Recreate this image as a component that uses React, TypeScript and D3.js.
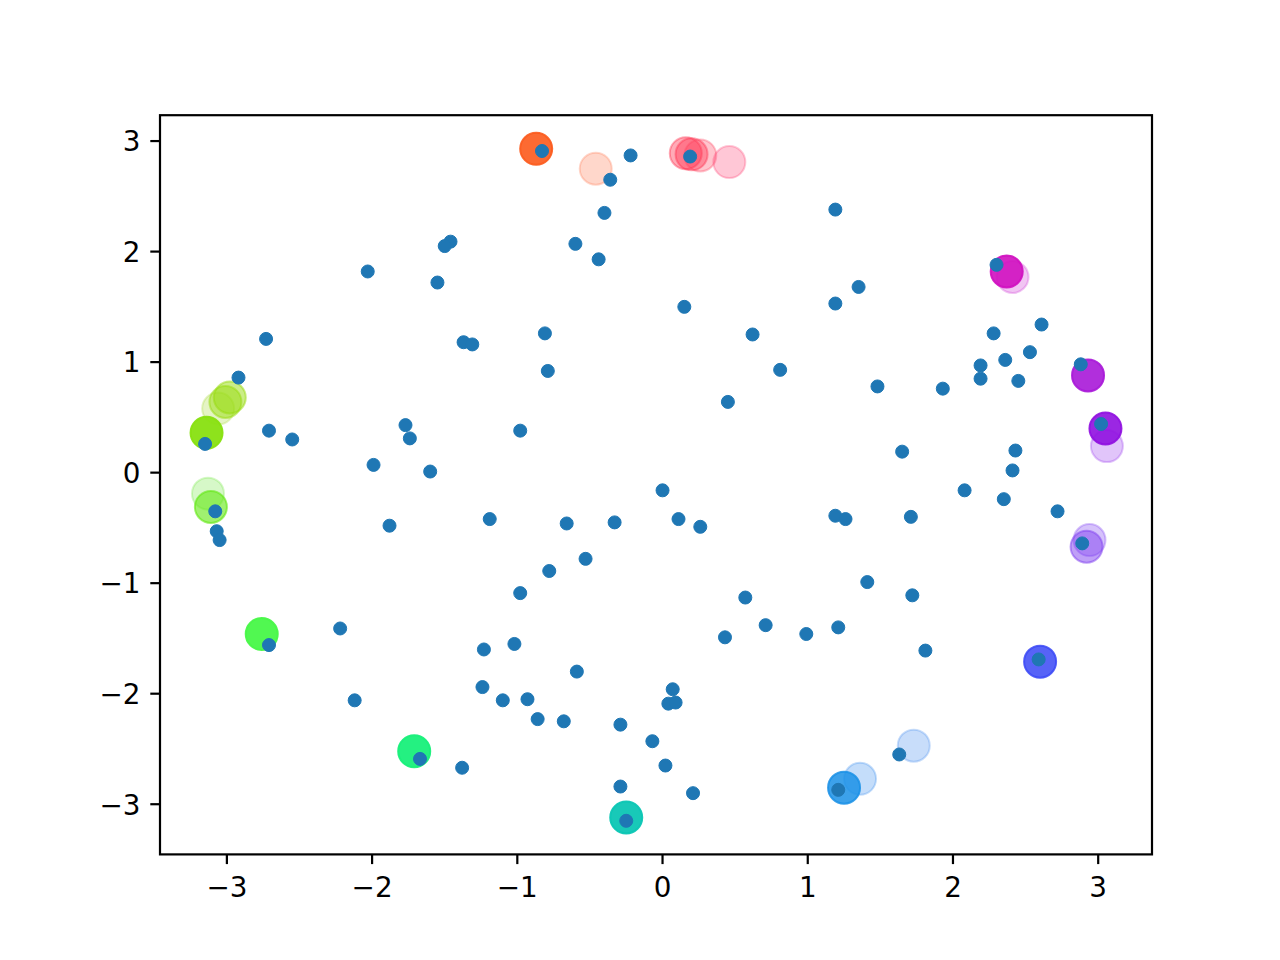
import React from "react";
import * as d3 from "d3";

// Small blue points
const dotX = [-0.83,-0.22,0.19,-0.36,-0.40,1.19,-0.60,-1.46,-1.50,-0.44,-2.03,2.30,-1.55,1.35,1.19,0.15,2.61,-2.73,-0.81,0.62,-1.37,-1.31,2.28,2.53,2.36,2.19,0.81,-0.79,2.88,-2.92,2.19,2.45,1.48,1.93,0.45,-1.77,3.02,-2.71,-0.98,-2.55,-1.74,-3.15,2.43,1.65,-1.99,-1.60,2.41,0.00,2.08,2.35,-3.08,2.72,-1.88,-1.19,0.11,1.19,1.26,1.71,-0.66,-0.33,0.26,-3.07,-3.05,2.89,-0.53,-0.78,1.41,-0.98,0.57,1.72,0.71,-2.22,1.21,0.99,0.43,-2.71,-1.02,-1.23,1.81,2.59,-0.59,-1.24,0.07,-2.12,-1.10,-0.93,0.04,0.09,-0.86,-0.68,-0.29,-0.07,1.63,-1.67,-1.38,0.02,-0.29,1.21,0.21,-0.25];
const dotY = [2.91,2.87,2.86,2.65,2.35,2.38,2.07,2.09,2.05,1.93,1.82,1.88,1.72,1.68,1.53,1.50,1.34,1.21,1.26,1.25,1.18,1.16,1.26,1.09,1.02,0.97,0.93,0.92,0.98,0.86,0.85,0.83,0.78,0.76,0.64,0.43,0.44,0.38,0.38,0.30,0.31,0.26,0.20,0.19,0.07,0.01,0.02,-0.16,-0.16,-0.24,-0.35,-0.35,-0.48,-0.42,-0.42,-0.39,-0.42,-0.40,-0.46,-0.45,-0.49,-0.53,-0.61,-0.64,-0.78,-0.89,-0.99,-1.09,-1.13,-1.11,-1.38,-1.41,-1.40,-1.46,-1.49,-1.56,-1.55,-1.60,-1.61,-1.69,-1.80,-1.94,-1.96,-2.06,-2.06,-2.05,-2.09,-2.08,-2.23,-2.25,-2.28,-2.43,-2.55,-2.59,-2.67,-2.65,-2.84,-2.87,-2.90,-3.15];

// Large coloured circles
const bigX = [-0.87,-0.46,0.16,0.20,0.26,0.46,2.41,2.37,2.93,3.06,3.05,2.94,2.92,2.60,1.73,1.36,1.25,-0.25,-1.71,-2.76,-3.13,-3.11,-3.06,-3.01,-2.98,-3.14];
const bigY = [2.93,2.75,2.89,2.88,2.87,2.81,1.77,1.82,0.88,0.24,0.40,-0.61,-0.67,-1.71,-2.47,-2.77,-2.85,-3.12,-2.52,-1.46,-0.19,-0.31,0.58,0.64,0.68,0.36];
const bigColor = ["#fc5a1c","#ff7a52","#ff2d4a","#ff2d4a","#ff3a5a","#ff4778","#d040d8","#d010c0","#a818d8","#9a40f0","#9010e0","#8a50f4","#8040f0","#3a48f6","#4a90f0","#3a8ff0","#1a90e6","#0cc6b4","#18f07a","#48f848","#78e848","#60e810","#a8dc40","#98dc10","#98dc10","#88e010"];
const bigAlpha = [0.9,0.3,0.4,0.4,0.3,0.3,0.3,0.9,0.9,0.3,0.9,0.35,0.5,0.85,0.3,0.3,0.85,0.95,0.95,0.95,0.3,0.6,0.3,0.5,0.5,0.95];

const xTicks = [-3,-2,-1,0,1,2,3];
const yTicks = [-3,-2,-1,0,1,2,3];

const W = 1280, H = 960;
const L = 160, R = 1152, T = 115.2, B = 854.4;

function padExtent(vals: number[]): [number, number] {
  const [a, b] = d3.extent(vals) as [number, number];
  const m = (b - a) * 0.05;
  return [a - m, b + m];
}

const fmt = (v: number) => (v < 0 ? "\u2212" + Math.abs(v) : String(v));

export default function App() {
  const x = d3.scaleLinear().domain(padExtent([...dotX, ...bigX])).range([L, R]);
  const y = d3.scaleLinear().domain(padExtent([...dotY, ...bigY])).range([B, T]);
  const font = "'DejaVu Sans', sans-serif";
  return (
    <svg width={W} height={H} style={{ position: "absolute", left: 0, top: 0, background: "#fff" }}>
      <rect x={0} y={0} width={W} height={H} fill="#fff" />
      <defs>
        <clipPath id="clip">
          <rect x={L} y={T} width={R - L} height={B - T} />
        </clipPath>
      </defs>
      <g clipPath="url(#clip)">
        {bigX.map((v, i) => (
          <circle key={"b" + i} cx={x(v)} cy={y(bigY[i])} r={16}
            fill={bigColor[i]} fillOpacity={bigAlpha[i]}
            stroke={bigColor[i]} strokeOpacity={bigAlpha[i]} strokeWidth={2} />
        ))}
        {dotX.map((v, i) => (
          <circle key={"d" + i} cx={x(v)} cy={y(dotY[i])} r={6.5} fill="#1f77b4" stroke="#1f77b4" strokeWidth={1} />
        ))}
      </g>
      <rect x={L} y={T} width={R - L} height={B - T} fill="none" stroke="#000" strokeWidth={2.2} />
      {xTicks.map((t) => (
        <g key={"xt" + t}>
          <line x1={x(t)} x2={x(t)} y1={B} y2={B + 9.7} stroke="#000" strokeWidth={2.2} />
          <text x={x(t)} y={B + 43} textAnchor="middle" fontFamily={font} fontSize={27.8} fill="#000">{fmt(t)}</text>
        </g>
      ))}
      {yTicks.map((t) => (
        <g key={"yt" + t}>
          <line x1={L} x2={L - 9.7} y1={y(t)} y2={y(t)} stroke="#000" strokeWidth={2.2} />
          <text x={L - 19.5} y={y(t) + 10.3} textAnchor="end" fontFamily={font} fontSize={27.8} fill="#000">{fmt(t)}</text>
        </g>
      ))}
    </svg>
  );
}
